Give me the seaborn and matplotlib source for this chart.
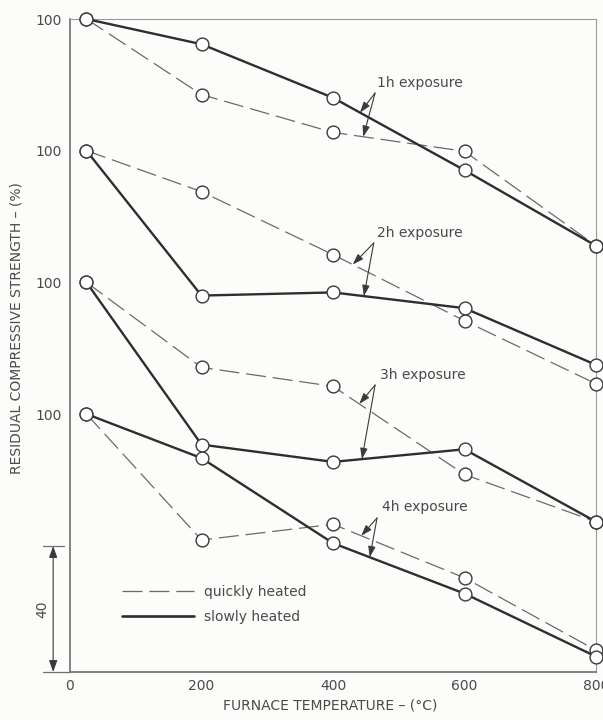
import numpy as np
import pandas as pd
import matplotlib
matplotlib.use("Agg")
import matplotlib.pyplot as plt
import matplotlib.transforms as mtransforms
from matplotlib.lines import Line2D
import seaborn as sns

# ---- data -------------------------------------------------------------
temperatures = [25, 200, 400, 600, 800]          # furnace temperature, degC
exposures = ["1h", "2h", "3h", "4h"]

quick_1h = [100, 76, 64, 58, 28]
slow_1h = [100, 92, 75, 52, 28]
quick_2h = [100, 87, 67, 46, 26]
slow_2h = [100, 54, 55, 50, 32]
quick_3h = [100, 73, 67, 39, 24]
slow_3h = [100, 48.5, 43, 47, 24]
quick_4h = [100, 60, 65, 48, 25]
slow_4h = [100, 86, 59, 43, 23]

x_ticks = [0, 200, 400, 600, 800]
y_tick_text = "100"
scale_bar_value = 40

quick = {"1h": quick_1h, "2h": quick_2h, "3h": quick_3h, "4h": quick_4h}
slow = {"1h": slow_1h, "2h": slow_2h, "3h": slow_3h, "4h": slow_4h}

# each exposure curve is shifted upward by a constant step (%)
STEP = 41.8
offsets = {"4h": 0.0, "3h": STEP, "2h": 2 * STEP, "1h": 3 * STEP}
Y_BOTTOM = 18.1

rows = []
for e in exposures:
    for heating, table in (("quickly heated", quick), ("slowly heated", slow)):
        for t, v in zip(temperatures, table[e]):
            rows.append({"exposure": e, "heating": heating, "temp": t,
                         "strength": v, "y": v + offsets[e]})
df = pd.DataFrame(rows)

# ---- style ------------------------------------------------------------
sns.set_style("white")
plt.rcParams["font.family"] = ["DejaVu Sans"]
TXT = "#4a4a4a"
SOLID = "#2e2e2e"
DASH = "#6a6a6a"
SPINE = "#6e6e6e"
BG = "#fcfcfb"

fig = plt.figure(figsize=(6.03, 7.2), dpi=100, facecolor=BG)
ax = fig.add_axes([70 / 603, 48 / 720, 526 / 603, 653 / 720])
ax.set_facecolor(BG)

line_styles = {
    "quickly heated": dict(color=DASH, linewidth=0.9, dashes=(16, 5.5), zorder=2),
    "slowly heated": dict(color=SOLID, linewidth=1.7, zorder=3),
}

for e in exposures:
    for heating in ("quickly heated", "slowly heated"):
        sub = df[(df.exposure == e) & (df.heating == heating)]
        st = line_styles[heating]
        sns.lineplot(data=sub, x="temp", y="y", ax=ax, sort=False,
                     estimator=None, legend=False, clip_on=False, **st)
        sns.scatterplot(data=sub, x="temp", y="y", ax=ax, s=85, marker="o",
                        facecolor="white", edgecolor="#3a3a3a", linewidth=1.0,
                        zorder=5, clip_on=False, legend=False)

ax.set_xlim(0, 800)
ax.set_ylim(Y_BOTTOM, 100 + 3 * STEP)

# ---- axes, ticks -----------------------------------------------------
for side in ("left", "bottom"):
    ax.spines[side].set_color(SPINE)
    ax.spines[side].set_linewidth(1.2)
for side in ("top", "right"):
    ax.spines[side].set_color("#9a9a9a")
    ax.spines[side].set_linewidth(0.8)

ax.set_xticks(x_ticks)
ax.set_xticklabels([str(t) for t in x_ticks])
ax.set_yticks([100 + offsets[e] for e in exposures])
ax.set_yticklabels([y_tick_text] * len(exposures))
ax.tick_params(axis="both", direction="in", length=10.5, width=0.9,
               color=SPINE, labelcolor=TXT, labelsize=10, pad=5)
ax.tick_params(axis="y", length=9.5, pad=6)

ax.set_xlabel("FURNACE TEMPERATURE – (°C)", fontsize=10, color=TXT)
ax.xaxis.set_label_coords(0.494, -0.041)
ax.set_ylabel("RESIDUAL COMPRESSIVE STRENGTH – (%)", fontsize=10, color=TXT)
ax.yaxis.set_label_coords(-0.088, 0.527)

# ---- exposure labels with arrows -------------------------------------
label_layout = {
    # text (x, y), arrow origin (x, y), arrow tip x on quick / slow curves
    "1h": ((467, 205.1), (464, 201.9), 446, 441),
    "2h": ((467, 157.5), (462, 154.3), 430, 447),
    "3h": ((471, 112.4), (464, 109.2), 440, 444),
    "4h": ((475, 70.5), (467, 67.0), 443, 456),
}
arrow_kw = dict(arrowstyle="-|>,head_length=0.65,head_width=0.22",
                color="#3a3a3a", lw=0.8, shrinkA=0, shrinkB=0,
                mutation_scale=10)
for e in exposures:
    (tx, ty), (ox, oy), xq, xs = label_layout[e]
    ax.text(tx, ty, f"{e} exposure", fontsize=10, color=TXT,
            ha="left", va="center", zorder=6)
    yq = np.interp(xq, temperatures, quick[e]) + offsets[e]
    ys = np.interp(xs, temperatures, slow[e]) + offsets[e]
    for xt, yt in ((xq, yq), (xs, ys)):
        ax.annotate("", xy=(xt, yt), xytext=(ox, oy), arrowprops=arrow_kw,
                    zorder=6)

# ---- legend ------------------------------------------------------------
handles = [
    Line2D([], [], color=DASH, linewidth=0.9, dashes=(16, 5.5)),
    Line2D([], [], color=SOLID, linewidth=1.9),
]
leg = ax.legend(handles, ["quickly heated", "slowly heated"],
                loc="upper left", bbox_to_anchor=(0.098, 0.133),
                frameon=False, fontsize=10, handlelength=5.2,
                handletextpad=0.75, labelspacing=0.75, borderpad=0,
                borderaxespad=0)
for t in leg.get_texts():
    t.set_color(TXT)

# ---- 40 % scale bar --------------------------------------------------
trans = mtransforms.blended_transform_factory(ax.transAxes, ax.transData)
bar_x = -0.032
ax.annotate("", xy=(bar_x, Y_BOTTOM), xytext=(bar_x, Y_BOTTOM + scale_bar_value),
            xycoords=trans, textcoords=trans,
            arrowprops=dict(arrowstyle="<|-|>,head_length=0.7,head_width=0.25",
                            color="#3a3a3a", lw=0.8, shrinkA=0, shrinkB=0,
                            mutation_scale=10),
            annotation_clip=False)
ax.plot([-0.051, -0.011], [Y_BOTTOM + scale_bar_value] * 2, transform=trans,
        color=SPINE, lw=0.9, clip_on=False)
ax.plot([-0.051, 0.0], [Y_BOTTOM] * 2, transform=trans,
        color=SPINE, lw=0.9, clip_on=False)
ax.text(-0.052, Y_BOTTOM + scale_bar_value / 2, str(scale_bar_value),
        transform=trans, rotation=90, ha="center", va="center",
        fontsize=10, color=TXT)

fig.savefig("out.png", dpi=100, facecolor=BG)
